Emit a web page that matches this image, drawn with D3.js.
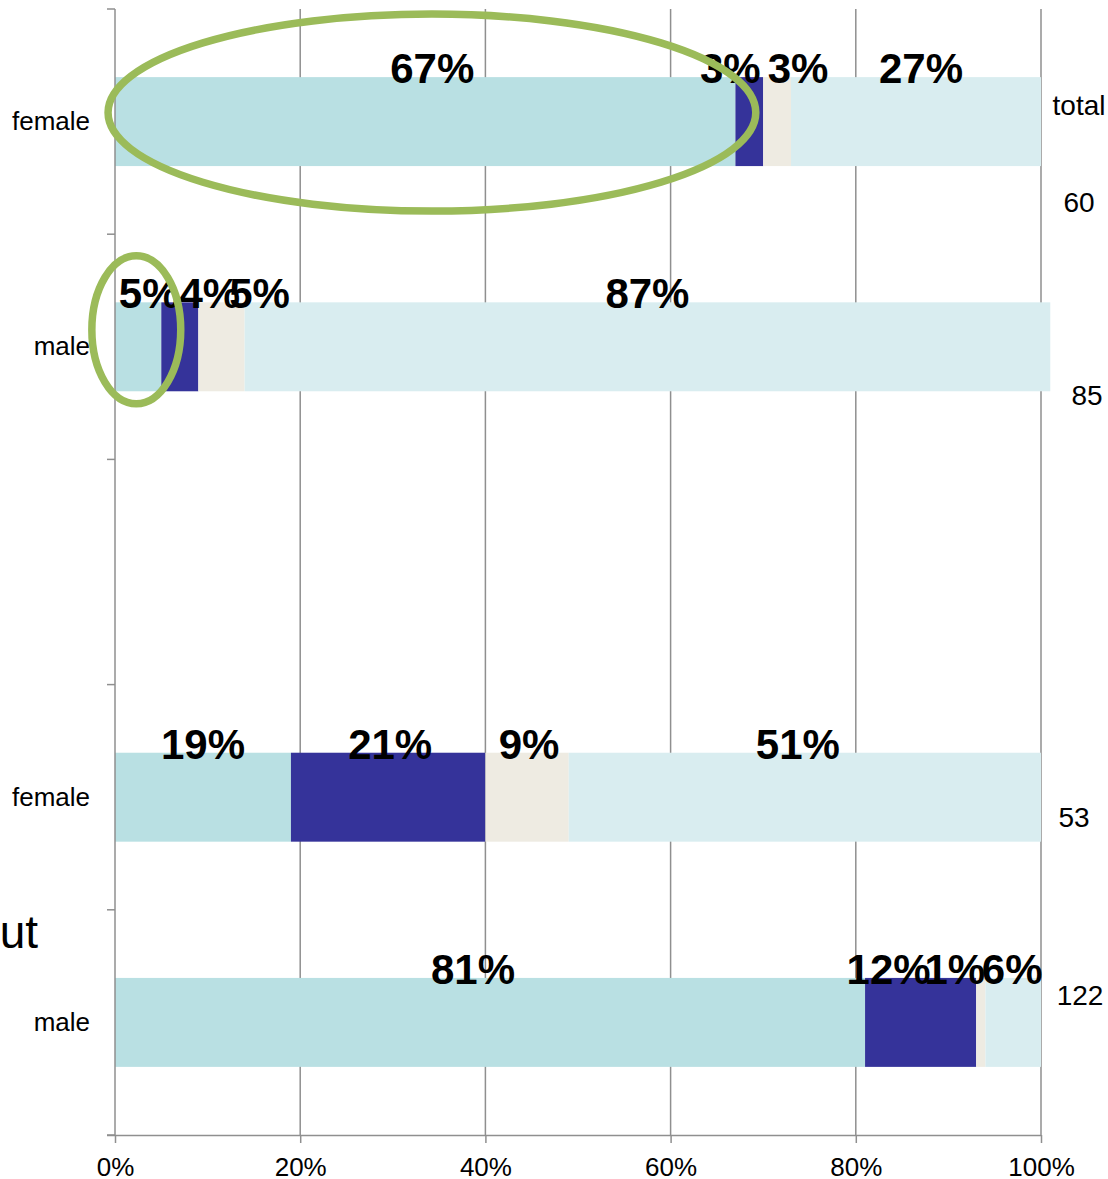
<!DOCTYPE html>
<html>
<head>
<meta charset="utf-8">
<script src="https://cdn.jsdelivr.net/npm/d3@7"></script>
<style>
  html, body { margin: 0; padding: 0; background: #fff; }
  svg { display: block; font-family: Arial, "Liberation Sans", sans-serif; }
</style>
</head>
<body>
<svg id="chart" width="1108" height="1179"></svg>
<script>
// Rows from top to bottom; the empty row separates the two groups
const rows = ["r1", "r2", "gap", "r3", "r4"];
const rowLabels = ["female", "male", "", "female", "male"];
const seriesNames = ["s1", "s2", "s3", "s4"];
const seriesColors = ["#b9e0e3", "#35339a", "#eeebe2", "#d9edf0"];

// Percentages of each segment per row (null = empty row)
const valuesRow1 = [67, 3, 3, 27];
const valuesRow2 = [5, 4, 5, 87];
const valuesRow3 = [19, 21, 9, 51];
const valuesRow4 = [81, 12, 1, 6];
const rowValues = [valuesRow1, valuesRow2, null, valuesRow3, valuesRow4];

// Respondent counts shown to the right of each bar
const counts = ["60", "85", null, "53", "122"];
const xTicks = [0, 0.2, 0.4, 0.6, 0.8, 1.0];

// ---- layout ----
const svg = d3.select("#chart");
const plotLeft = 115, plotRight = 1041, plotTop = 9, plotBottom = 1135;

const x = d3.scaleLinear().domain([0, 1]).range([plotLeft, plotRight]);
const y = d3.scaleBand().domain(rows).range([plotTop, plotBottom])
  .paddingInner(0.605).paddingOuter(0.3025);
const step = y.step();
const color = d3.scaleOrdinal().domain(seriesNames).range(seriesColors);

const gridColor = "#8f8f8f";

// vertical gridlines
svg.append("g").selectAll("line").data(xTicks.slice(1)).join("line")
  .attr("x1", d => x(d)).attr("x2", d => x(d))
  .attr("y1", plotTop).attr("y2", plotBottom)
  .attr("stroke", gridColor).attr("stroke-width", 1.5);

// stacked segments
const segs = [];
rowValues.forEach((vals, i) => {
  if (!vals) return;
  let acc = 0;
  vals.forEach((v, j) => {
    segs.push({ row: rows[i], series: seriesNames[j], x0: acc / 100, x1: (acc + v) / 100, v });
    acc += v;
  });
});

svg.append("g").selectAll("rect").data(segs).join("rect")
  .attr("x", d => x(d.x0))
  .attr("width", d => x(d.x1) - x(d.x0))
  .attr("y", d => y(d.row))
  .attr("height", y.bandwidth())
  .attr("fill", d => color(d.series));

// y axis line with ticks at row boundaries
const yAxis = svg.append("g").attr("stroke", gridColor).attr("stroke-width", 1.5);
yAxis.append("line").attr("x1", plotLeft).attr("x2", plotLeft).attr("y1", plotTop).attr("y2", plotBottom);
yAxis.selectAll("line.tick").data(d3.range(rows.length + 1)).join("line")
  .attr("class", "tick")
  .attr("x1", plotLeft - 8).attr("x2", plotLeft)
  .attr("y1", i => plotTop + i * step).attr("y2", i => plotTop + i * step);

// x axis
const xAxis = svg.append("g").attr("transform", `translate(0,${plotBottom})`)
  .call(d3.axisBottom(x).tickValues(xTicks).tickFormat(d3.format(".0%")).tickSize(8).tickPadding(15));
xAxis.select(".domain").attr("stroke", gridColor).attr("stroke-width", 1.5)
  .attr("d", `M${plotLeft - 8},0.5H${plotRight}`);
xAxis.selectAll(".tick line").attr("stroke", gridColor).attr("stroke-width", 1.5);
xAxis.selectAll(".tick text").attr("font-size", 26).attr("fill", "#000")
  .attr("font-family", "Arial, 'Liberation Sans', sans-serif");

// category labels
svg.append("g").selectAll("text").data(rows.map((r, i) => ({ r, t: rowLabels[i] })).filter(d => d.t))
  .join("text")
  .attr("x", plotLeft - 25)
  .attr("y", d => y(d.r) + y.bandwidth() / 2 + 8.5)
  .attr("text-anchor", "end")
  .attr("font-size", 26)
  .text(d => d.t);

// percent labels, nudged sideways where neighbours would collide
const labelNudge = {
  r1: [7, -19, 21, 5],
  r2: [11, 30, 38, 0],
  r3: [0, 2, 2, -7],
  r4: [-17, -32, -26, -1]
};
svg.append("g").selectAll("text").data(segs).join("text")
  .attr("x", d => (x(d.x0) + x(d.x1)) / 2 + labelNudge[d.row][seriesNames.indexOf(d.series)])
  .attr("y", d => y(d.row) + 6)
  .attr("text-anchor", "middle")
  .attr("font-size", 42)
  .attr("font-weight", "bold")
  .text(d => d.v + "%");

// counts on the right
const countShift = { r1: 90, r2: 58, r3: 30, r4: -17 };
const countX = { r1: 1079, r2: 1087, r3: 1074, r4: 1080 };
svg.append("g").selectAll("text").data(rows.map((r, i) => ({ r, n: counts[i] })).filter(d => d.n))
  .join("text")
  .attr("x", d => countX[d.r])
  .attr("y", d => y(d.r) + y.bandwidth() / 2 + countShift[d.r])
  .attr("text-anchor", "middle")
  .attr("font-size", 28)
  .text(d => d.n);

svg.append("text")
  .attr("x", 1079).attr("y", 115)
  .attr("text-anchor", "middle")
  .attr("font-size", 28)
  .text("total");

// clipped group title at the left edge
svg.append("text")
  .attr("x", 38).attr("y", 948)
  .attr("text-anchor", "end")
  .attr("font-size", 46)
  .text("ut");

// highlight rings
const rings = [
  { row: "r1", from: -0.0075, to: 0.692, dy: -9, ry: 98.5 },
  { row: "r2", from: -0.025, to: 0.071, dy: -17, ry: 74 }
];
svg.append("g").selectAll("ellipse").data(rings).join("ellipse")
  .attr("cx", d => (x(d.from) + x(d.to)) / 2)
  .attr("cy", d => y(d.row) + y.bandwidth() / 2 + d.dy)
  .attr("rx", d => (x(d.to) - x(d.from)) / 2)
  .attr("ry", d => d.ry)
  .attr("fill", "none")
  .attr("stroke", "#9bbb59")
  .attr("stroke-width", 7.5);
</script>
</body>
</html>
